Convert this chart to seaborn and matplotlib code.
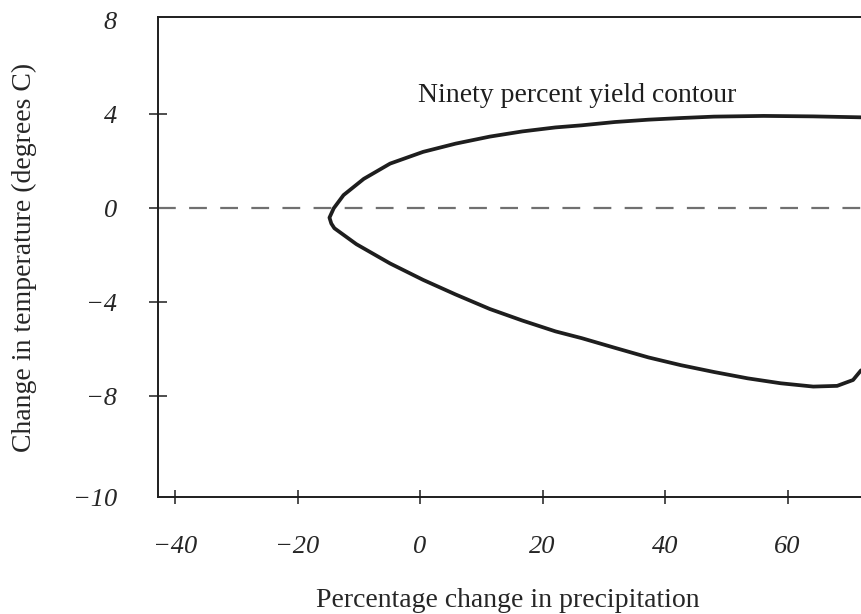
import matplotlib
matplotlib.use("Agg")
import matplotlib.pyplot as plt
import seaborn as sns
import pandas as pd

# ---- data (contour traced from upper right, round the tip, to lower right) ----
precip_change = [72.0, 64.2, 56.1, 48.0, 42.6, 37.3, 31.8, 26.4, 22.1, 16.7, 11.4, 5.8, 0.5,
                 -4.9, -9.2, -12.5, -14.1, -14.8, -14.5, -14.0, -10.4, -4.9, 0.5, 5.8, 11.4,
                 16.7, 22.1, 26.4, 31.8, 37.3, 42.6, 48.0, 53.5, 58.9, 64.2, 68.1, 70.7, 72.0]
temp_change = [3.87, 3.91, 3.93, 3.90, 3.84, 3.77, 3.67, 3.53, 3.44, 3.27, 3.05, 2.75, 2.40,
               1.90, 1.25, 0.56, 0.00, -0.40, -0.65, -0.85, -1.53, -2.35, -3.05, -3.67, -4.29,
               -4.78, -5.24, -5.53, -5.94, -6.35, -6.68, -6.97, -7.24, -7.45, -7.59, -7.56,
               -7.31, -6.90]
x_ticks = [-40, -20, 0, 20, 40, 60]
x_tick_labels = ["\u221240", "\u221220", "0", "20", "40", "60"]
y_ticks = [8, 4, 0, -4, -8, -12.29]
y_tick_labels = ["8", "4", "0", "\u22124", "\u22128", "\u221210"]
x_limits = (-42.8, 72.0)
y_limits = (-12.29, 8.14)
annotation = "Ninety percent yield contour"
x_label = "Percentage change in precipitation"
y_label = "Change in temperature (degrees C)"

df = pd.DataFrame({"precip": precip_change, "temp": temp_change})

sns.set_theme(style="white")
plt.rcParams["font.family"] = ["Liberation Serif", "DejaVu Serif"]

W, H = 861, 614
fig = plt.figure(figsize=(W / 100, H / 100), dpi=100)
ax = fig.add_axes([158 / W, (H - 497) / H, (W - 158) / W, (497 - 17) / H])

ax.axhline(0, color="#707070", lw=1.6, ls=(0, (8, 6)), zorder=1)
sns.lineplot(data=df, x="precip", y="temp", sort=False, estimator=None,
             color="#1e1e1e", lw=2.7, ax=ax, zorder=3)
for ln in ax.lines:
    ln.set_solid_joinstyle("round")
    ln.set_solid_capstyle("round")

ax.set_xlim(*x_limits)
ax.set_ylim(*y_limits)

ax.set_xticks(x_ticks)
ax.set_xticklabels(x_tick_labels, fontstyle="italic", fontsize=19)
ax.set_yticks(y_ticks)
ax.set_yticklabels(y_tick_labels, fontstyle="italic", fontsize=19)

ax.tick_params(axis="x", direction="inout", length=10, width=1.1, color="#1e1e1e",
               pad=23, bottom=True)
ax.tick_params(axis="y", direction="inout", length=13, width=1.1, color="#1e1e1e",
               pad=23, left=True)
yt = ax.yaxis.get_major_ticks()
yt[0].tick1line.set_visible(False)
yt[-1].tick1line.set_visible(False)

for side in ["left", "bottom", "top"]:
    ax.spines[side].set_color("#1e1e1e")
    ax.spines[side].set_linewidth(1.4)
ax.spines["right"].set_visible(False)

ax.set_xlabel(x_label, fontsize=20)
ax.set_ylabel(y_label, fontsize=20)
ax.xaxis.set_label_coords((507.5 - 158) / 703, (497 - 588) / 480)
ax.yaxis.set_label_coords((37 - 158) / 703, 0.499)

ax.text(-0.3, 4.53, annotation, fontsize=20, ha="left", va="baseline", color="#1e1e1e")

fig.savefig("out.png", dpi=100)
